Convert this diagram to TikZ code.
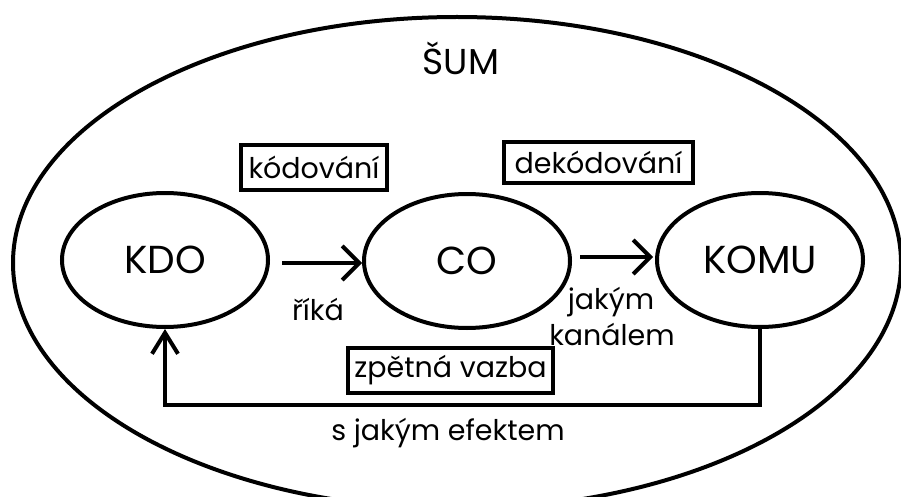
\documentclass[tikz,border=0pt]{standalone}
\usepackage{fontspec}
\setmainfont{Poppins}
\usetikzlibrary{shapes.geometric,arrows.meta}
\tikzset{
  ent/.style={ellipse, draw, line width=4pt, minimum width=206pt, minimum height=134pt, inner sep=0pt, font=\fontsize{39}{44}\selectfont},
  lbox/.style={draw, line width=4pt, inner sep=0pt, font=\fontsize{28.5}{32}\selectfont},
  lbl/.style={inner sep=0pt, font=\fontsize{28.5}{32}\selectfont},
  arr/.style={line width=4pt, -{Straight Barb[length=17pt,width=34pt]}},
  farr/.style={line width=4pt, -{Straight Barb[length=21pt,width=26pt]}},
}
\begin{document}
\begin{tikzpicture}[x=1pt,y=-1pt]
\useasboundingbox (0,0) rectangle (901,497);
\clip (0,0) rectangle (901,497);
\fill[white] (0,0) rectangle (901,497);
\node[ellipse, draw, line width=4pt, minimum width=888pt, minimum height=492pt, inner sep=0pt] (noise) at (457,263) {};
\node[inner sep=0pt, anchor=base, font=\fontsize{36}{40}\selectfont] (sum) at (461,75) {ŠUM};
\node[ent] (KDO) at (165,260) {KDO};
\node[ent] (CO) at (467,261) {CO};
\node[ent] (KOMU) at (760,260) {KOMU};
\node[lbox, minimum width=146pt, minimum height=45pt] (kod) at (314,167.5) {kódování};
\node[lbox, minimum width=189pt, minimum height=41pt] (dekod) at (598.5,162.5) {dekódování};
\node[lbox, minimum width=205pt, minimum height=45pt] (zv) at (450.5,370.5) {zpětná vazba};
\node[lbl, anchor=base] (rika) at (318,320) {říká};
\node[lbl, anchor=base] (jakym) at (611,309) {jakým};
\node[lbl, anchor=base] (kanalem) at (612,345) {kanálem};
\node[lbl, anchor=base] (efekt) at (448,440) {s jakým efektem};
\draw[arr] ([xshift=12pt,yshift=-3pt]KDO.east) -- ([yshift=-2pt]CO.west);
\draw[arr] ([xshift=8pt,yshift=4pt]CO.east) -- ([xshift=-2pt,yshift=3pt]KOMU.west);
\draw[farr] (KOMU.south) -- ++(0,76) -| (KDO.south);
\end{tikzpicture}
\end{document}
